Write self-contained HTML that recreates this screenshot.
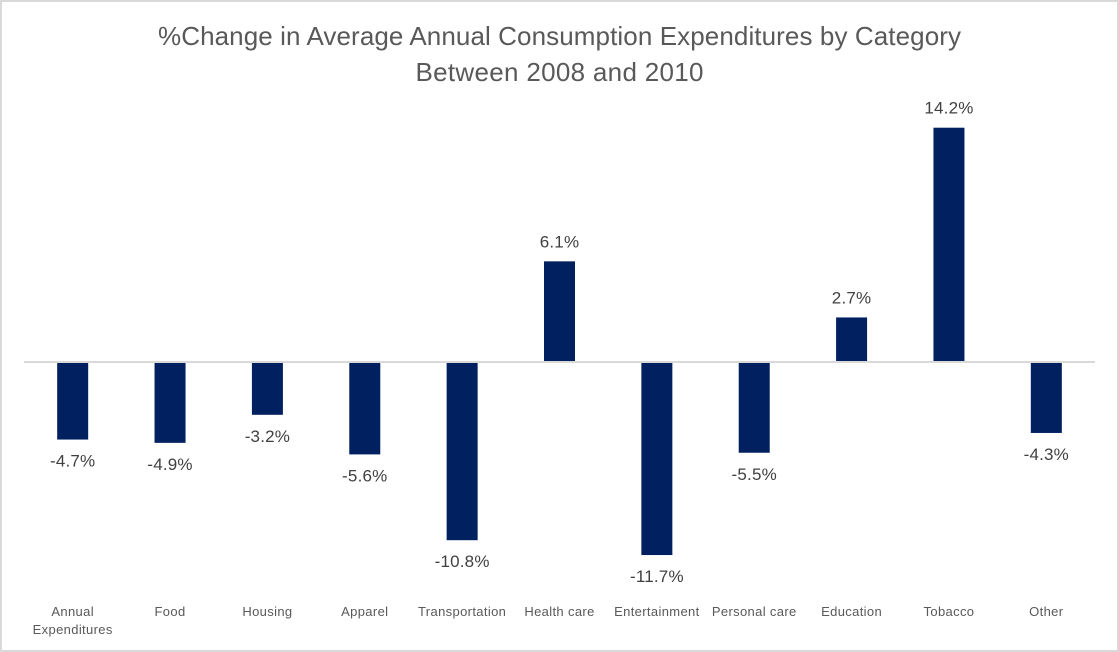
<!DOCTYPE html>
<html lang="en">
<head>
<meta charset="utf-8">
<title>%Change in Average Annual Consumption Expenditures by Category</title>
<style>
html,body{margin:0;padding:0;background:#fff;width:1119px;height:652px;overflow:hidden}
svg{display:block;font-family:"Liberation Sans",Arial,sans-serif}
</style>
</head>
<body>
<svg id="chart" width="1119" height="652" viewBox="0 0 1119 652" xmlns="http://www.w3.org/2000/svg">
  <rect x="1" y="1" width="1117" height="650" fill="#fff" stroke="#d9d9d9" stroke-width="2"/>
  <g fill="#595959" font-size="26" text-anchor="middle">
    <text x="559.5" y="45" textLength="803" lengthAdjust="spacing">%Change in Average Annual Consumption Expenditures by Category</text>
    <text x="559.5" y="81" textLength="288" lengthAdjust="spacing">Between 2008 and 2010</text>
  </g>
  <g id="bars"></g>
  <line x1="24" x2="1095" y1="362" y2="362" stroke="#d9d9d9" stroke-width="2"/>
  <g id="values"></g>
  <g id="cats"></g>
</svg>
<script>
const categories = [["Annual","Expenditures"],["Food"],["Housing"],["Apparel"],["Transportation"],["Health care"],["Entertainment"],["Personal care"],["Education"],["Tobacco"],["Other"]];
const changes = [-4.7,-4.9,-3.2,-5.6,-10.8,6.1,-11.7,-5.5,2.7,14.2,-4.3];

const NS = 'http://www.w3.org/2000/svg';
const plotLeft = 24, plotRight = 1095, zeroY = 362, pxPerUnit = 16.5, barW = 31;
const band = (plotRight - plotLeft) / categories.length;
const xCenter = i => plotLeft + band * (i + 0.5);
const yScale = v => zeroY - v * pxPerUnit;
const barsG = document.getElementById('bars');
const valuesG = document.getElementById('values');
const catsG = document.getElementById('cats');

changes.forEach((v, i) => {
  const cx = xCenter(i);
  const rect = document.createElementNS(NS, 'rect');
  
  
  rect.setAttribute('x', cx - barW / 2);
  rect.setAttribute('width', barW);
  rect.setAttribute('y', Math.min(yScale(v), zeroY));
  rect.setAttribute('height', Math.abs(yScale(v) - zeroY));
  rect.setAttribute('fill', '#002060');
  barsG.appendChild(rect);

  const label = document.createElementNS(NS, 'text');
  
  
  label.setAttribute('x', cx);
  label.setAttribute('y', v < 0 ? yScale(v) + 27 : yScale(v) - 14);
  label.setAttribute('text-anchor', 'middle');
  label.setAttribute('font-size', '17');
  label.setAttribute('letter-spacing', '0.2');
  label.setAttribute('fill', '#404040');
  label.textContent = v.toFixed(1) + '%';
  valuesG.appendChild(label);

  categories[i].forEach((line, j) => {
    const cat = document.createElementNS(NS, 'text');
    
    
    cat.setAttribute('x', cx);
    cat.setAttribute('y', 616 + j * 18);
    cat.setAttribute('text-anchor', 'middle');
    cat.setAttribute('font-size', '13');
    cat.setAttribute('letter-spacing', '0.35');
    cat.setAttribute('fill', '#595959');
    cat.textContent = line;
    catsG.appendChild(cat);
  });
});
</script>
</body>
</html>
